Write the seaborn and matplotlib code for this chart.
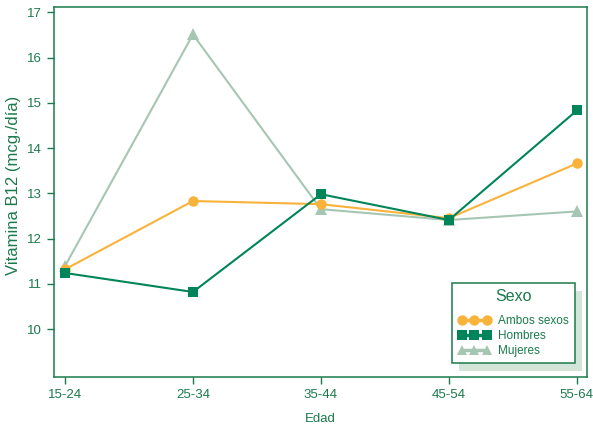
import seaborn as sns
import matplotlib.pyplot as plt
import matplotlib.patches as mpatches
from matplotlib.lines import Line2D
import pandas as pd

edad = ["15-24", "25-34", "35-44", "45-54", "55-64"]
ambos = [11.32, 12.83, 12.76, 12.45, 13.66]
hombres = [11.24, 10.82, 12.98, 12.41, 14.83]
mujeres = [11.39, 16.51, 12.65, 12.41, 12.60]

series = ["Ambos sexos", "Hombres", "Mujeres"]
colores = {"Ambos sexos": "#f9b23a", "Hombres": "#00845a", "Mujeres": "#a6c6b4"}
marcas = {"Ambos sexos": "o", "Hombres": "s", "Mujeres": "^"}
verde = "#1b7a4c"

rows = []
for nombre, vals in zip(series, [ambos, hombres, mujeres]):
    for i, v in enumerate(vals):
        rows.append({"pos": i, "valor": v, "Sexo": nombre})
df = pd.DataFrame(rows)

sns.set_style("white")
plt.rcParams['font.family'] = ['Liberation Sans', 'DejaVu Sans']

fig = plt.figure(figsize=(5.93, 4.28), dpi=100)
ax = fig.add_axes([0.091, 0.119, 0.899, 0.865])

# Mujeres first so it sits underneath
for nombre in ["Mujeres", "Ambos sexos", "Hombres"]:
    sub = df[df["Sexo"] == nombre]
    sns.lineplot(data=sub, x="pos", y="valor", ax=ax, color=colores[nombre],
                 marker=marcas[nombre], markersize=7.5 if nombre != "Mujeres" else 8.5,
                 markeredgewidth=0, linewidth=1.5, label=nombre, legend=False)

ax.set_xlim(-0.086, 4.08)
ax.set_ylim(8.94, 17.12)
ax.set_xticks(range(len(edad)))
ax.set_xticklabels(edad)
ax.set_yticks(range(10, 18))
ax.set_xlabel("Edad", color=verde, fontsize=9.5, labelpad=9)
ax.set_ylabel("Vitamina B12 (mcg./día)", color=verde, fontsize=12)
ax.yaxis.set_label_coords(-0.062, 0.519)

for s in ax.spines.values():
    s.set_color(verde)
    s.set_linewidth(1.1)
ax.tick_params(axis="both", colors=verde, labelcolor=verde, labelsize=9.5,
               direction="out", length=5, width=1, left=True, bottom=True)

handles = []
for nombre in series:
    handles.append(Line2D([], [], color=colores[nombre], marker=marcas[nombre],
                          markersize=7.5, markeredgewidth=0, linewidth=2.5))
leg = ax.legend(handles, series, title="Sexo", loc="lower right",
                bbox_to_anchor=(0.9775, 0.038), numpoints=3, handlelength=2.7,
                handletextpad=0.7, labelspacing=0.25, fontsize=8.5,
                title_fontsize=11.5, fancybox=False, frameon=True, framealpha=1,
                borderpad=0.5, borderaxespad=0)
leg.get_frame().set_edgecolor(verde)
leg.get_frame().set_linewidth(1.1)
leg.get_frame().set_facecolor("white")
leg.get_title().set_color(verde)
leg._legend_box.sep = 8
for t in leg.get_texts():
    t.set_color(verde)

fig.canvas.draw()
bb = leg.get_window_extent().transformed(ax.transAxes.inverted())
dx = 7 / (0.899 * 593)
dy = 8 / (0.865 * 428)
sombra = mpatches.Rectangle((bb.x0 + dx, bb.y0 - dy), bb.width, bb.height,
                            transform=ax.transAxes, facecolor="#d3e5d9",
                            edgecolor="none", zorder=4)
ax.add_patch(sombra)
leg.set_zorder(5)

fig.savefig("out.png", dpi=100)
